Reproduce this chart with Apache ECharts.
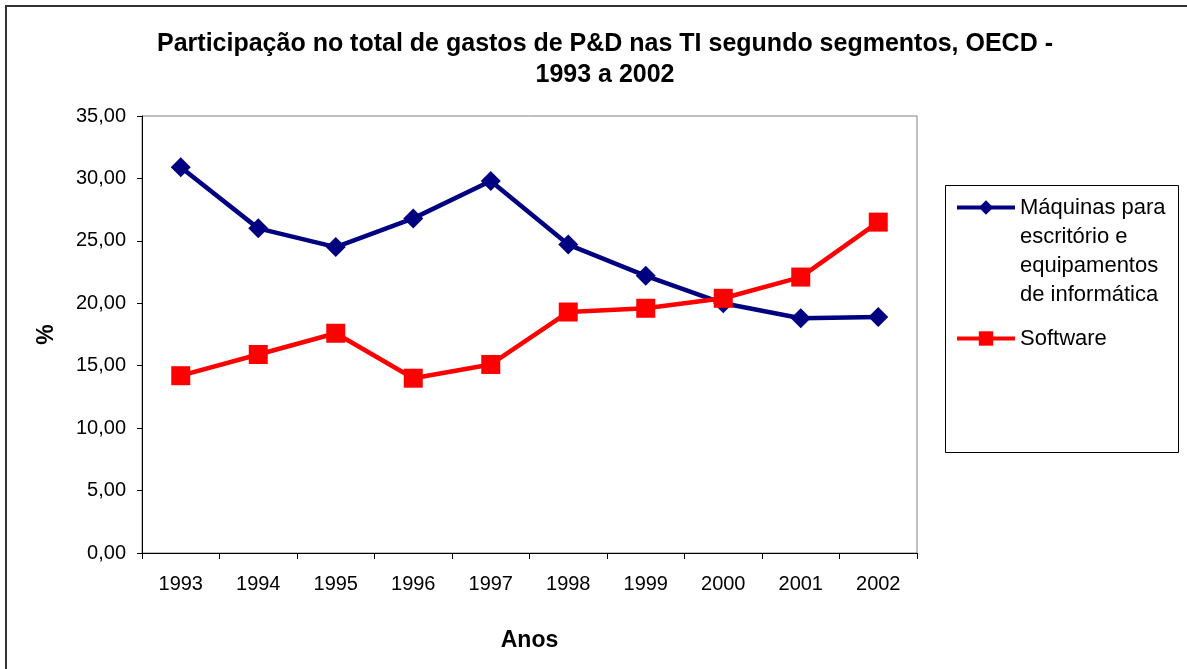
<!DOCTYPE html>
<html>
<head>
<meta charset="utf-8">
<script src="https://cdn.jsdelivr.net/npm/echarts@6/dist/echarts.min.js"></script>
<style>
  html, body { margin: 0; padding: 0; background: #fff; }
  #chart { width: 1187px; height: 669px; }
</style>
</head>
<body>
<div id="chart"></div>
<script>
// dados
const anos = ['1993', '1994', '1995', '1996', '1997', '1998', '1999', '2000', '2001', '2002']
const maquinas = [30.9, 26.0, 24.5, 26.8, 29.8, 24.7, 22.2, 20.0, 18.8, 18.9]
const software = [14.2, 15.9, 17.6, 14.0, 15.1, 19.3, 19.6, 20.4, 22.1, 26.5]
const nomeMaquinas = 'Máquinas para\nescritório e\nequipamentos\nde informática'
const nomeSoftware = 'Software'

const font = '"Liberation Sans", Arial, sans-serif'
const chart = echarts.init(document.getElementById('chart'))

const option = {
  backgroundColor: '#fff',
  animation: false,
  title: {
    text: 'Participação no total de gastos de P&D nas TI segundo segmentos, OECD -\n1993 a 2002',
    left: 600,
    top: 24,
    textAlign: 'center',
    textStyle: {
      fontFamily: font,
      fontSize: 25,
      fontWeight: 'bold',
      color: '#000',
      lineHeight: 31
    }
  },
  graphic: [
    {
      type: 'rect',
      shape: { x: 6, y: 6, width: 1300, height: 800 },
      style: { fill: 'none', stroke: '#333', lineWidth: 2 },
      z: -1
    },
    {
      type: 'rect',
      shape: { x: 945.5, y: 185.5, width: 233, height: 267 },
      style: { fill: '#fff', stroke: '#000', lineWidth: 1 },
      z: 0
    }
  ],
  legend: {
    orient: 'vertical',
    left: 955,
    top: 106,
    padding: 0,
    itemGap: 15,
    itemWidth: 58,
    itemHeight: 18,
    z: 5,
    // linhas vazias antes do nome para o ícone ficar na primeira linha
    formatter: name => (name === nomeMaquinas ? '\n\n\n' + name : name),
    textStyle: {
      fontFamily: font,
      fontSize: 22,
      color: '#000',
      lineHeight: 29
    },
    lineStyle: { width: 4 },
    data: [nomeMaquinas, nomeSoftware]
  },
  grid: {
    left: 142,
    top: 116,
    right: 270,
    bottom: 116,
    show: true,
    borderColor: '#808080',
    borderWidth: 1,
    backgroundColor: '#fff'
  },
  xAxis: {
    type: 'category',
    data: anos,
    boundaryGap: true,
    name: 'Anos',
    nameLocation: 'middle',
    nameGap: 76,
    nameTextStyle: { fontFamily: font, fontSize: 23, fontWeight: 'bold', color: '#000' },
    axisLine: { lineStyle: { color: '#000', width: 1 } },
    axisTick: { show: true, length: 6, lineStyle: { color: '#000' } },
    axisLabel: { fontFamily: font, fontSize: 20, color: '#000', margin: 21 },
    splitLine: { show: false }
  },
  yAxis: {
    type: 'value',
    min: 0,
    max: 35,
    interval: 5,
    name: '%',
    nameLocation: 'middle',
    nameGap: 84,
    nameRotate: 90,
    nameTextStyle: { fontFamily: font, fontSize: 23, fontWeight: 'bold', color: '#000' },
    axisLine: { show: true, lineStyle: { color: '#000', width: 1 } },
    axisTick: { show: true, length: 5, lineStyle: { color: '#000' } },
    axisLabel: {
      fontFamily: font,
      fontSize: 20,
      color: '#000',
      margin: 16,
      formatter: v => v.toFixed(2).replace('.', ',')
    },
    splitLine: { show: false }
  },
  series: [
    {
      name: nomeMaquinas,
      type: 'line',
      data: maquinas,
      symbol: 'diamond',
      symbolSize: 20,
      lineStyle: { color: '#000080', width: 4.5 },
      itemStyle: { color: '#000080' }
    },
    {
      name: nomeSoftware,
      type: 'line',
      data: software,
      symbol: 'rect',
      symbolSize: 19,
      lineStyle: { color: '#ff0000', width: 4.5 },
      itemStyle: { color: '#ff0000' }
    }
  ]
}

chart.setOption(option)
</script>
</body>
</html>
